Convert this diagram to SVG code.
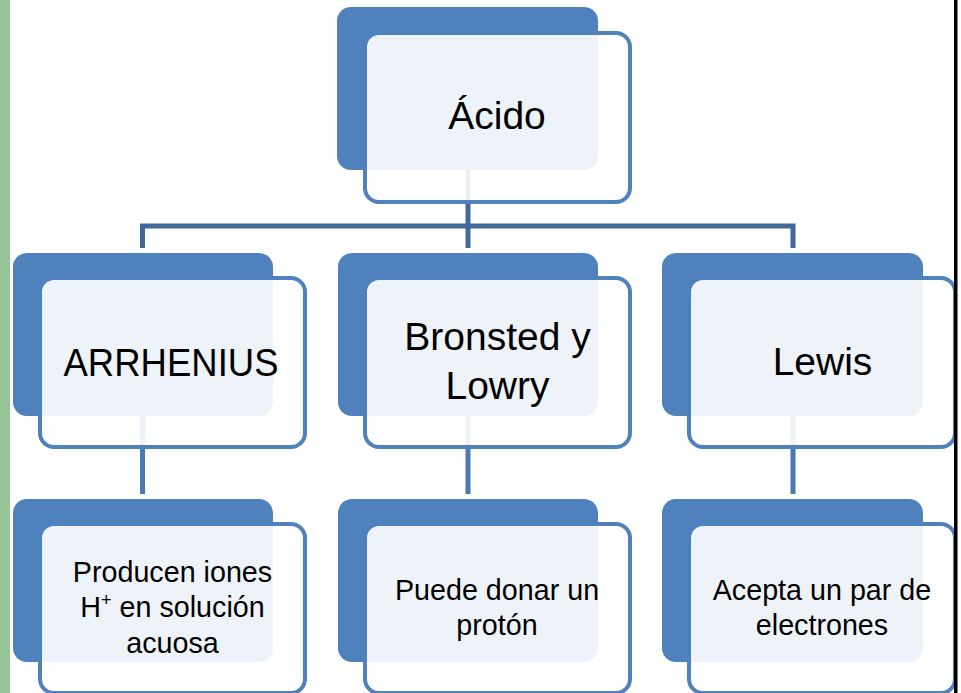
<svg xmlns="http://www.w3.org/2000/svg" width="961" height="693" viewBox="0 0 961 693">
  <style>
    .back { fill: #4F81BD; }
    .front { fill: #FFFFFF; fill-opacity: 0.9; stroke: #4F81BD; stroke-width: 4; }
    .lbl { font-family: "Liberation Sans", Arial, sans-serif; fill: #000000; text-anchor: middle; }
    .l1 { font-size: 39px; }
    .l2 { font-size: 28.7px; }
    .tree { fill: none; stroke: #41699B; stroke-width: 5; stroke-linejoin: miter; }
    .leaf { fill: none; stroke: #4A7AB5; stroke-width: 5; }
  </style>

  <rect x="0" y="0" width="961" height="693" fill="#FFFFFF"/>
  <!-- page edge strips -->
  <rect x="0" y="0" width="10" height="693" fill="#95C596"/>

  <!-- connectors -->
  <g id="connectors">
    <path class="tree" d="M468 170 V248"/>
    <path class="tree" d="M142.5 248 V226 H793 V248"/>
    <path class="leaf" d="M142.5 416 V494"/>
    <path class="leaf" d="M468 416 V494"/>
    <path class="leaf" d="M793 416 V494"/>
  </g>

  <!-- root -->
  <g id="acido">
    <rect class="back" x="337" y="7" width="261" height="163" rx="14"/>
    <rect class="front" x="365" y="33" width="265" height="169" rx="14"/>
    <text class="lbl l1" x="497" y="129">Ácido</text>
  </g>

  <!-- second level -->
  <g id="arrhenius">
    <rect class="back" x="13" y="253" width="260" height="163" rx="14"/>
    <rect class="front" x="40" y="278" width="265" height="169" rx="14"/>
    <text class="lbl l1" x="171" y="376" textLength="215" lengthAdjust="spacingAndGlyphs">ARRHENIUS</text>
  </g>
  <g id="bronsted">
    <rect class="back" x="338" y="253" width="260" height="163" rx="14"/>
    <rect class="front" x="365" y="278" width="265" height="169" rx="14"/>
    <text class="lbl l1" x="497.5" y="350">Bronsted y</text>
    <text class="lbl l1" x="497.5" y="399">Lowry</text>
  </g>
  <g id="lewis">
    <rect class="back" x="662" y="253" width="261" height="163" rx="14"/>
    <rect class="front" x="689" y="278" width="266" height="169" rx="14"/>
    <text class="lbl l1" x="822.5" y="375">Lewis</text>
  </g>

  <!-- third level -->
  <g id="arrhenius-def">
    <rect class="back" x="13" y="499" width="260" height="163" rx="14"/>
    <rect class="front" x="40" y="524" width="265" height="169" rx="14"/>
    <text class="lbl l2" x="172.5" y="582">Producen iones</text>
    <text class="lbl l2" x="172.5" y="617">H<tspan font-size="18" dy="-11">+</tspan><tspan dy="11"> en solución</tspan></text>
    <text class="lbl l2" x="172.5" y="653">acuosa</text>
  </g>
  <g id="bronsted-def">
    <rect class="back" x="338" y="499" width="260" height="163" rx="14"/>
    <rect class="front" x="365" y="524" width="265" height="169" rx="14"/>
    <text class="lbl l2" x="497" y="600">Puede donar un</text>
    <text class="lbl l2" x="497" y="635">protón</text>
  </g>
  <g id="lewis-def">
    <rect class="back" x="662" y="499" width="261" height="163" rx="14"/>
    <rect class="front" x="689" y="524" width="266" height="169" rx="14"/>
    <text class="lbl l2" x="822" y="600">Acepta un par de</text>
    <text class="lbl l2" x="822" y="635">electrones</text>
  </g>

  <rect x="954" y="0" width="3.5" height="693" fill="#000000"/>
</svg>
